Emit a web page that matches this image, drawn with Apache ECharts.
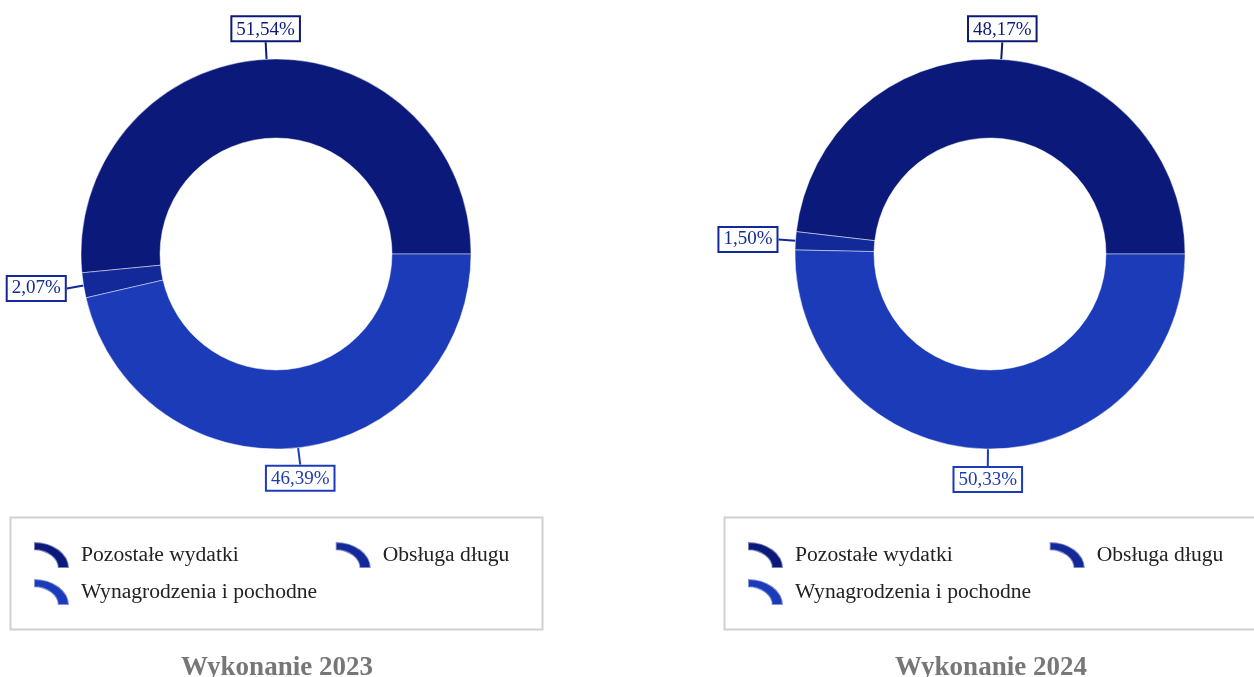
<!DOCTYPE html>
<html>
<head>
<meta charset="utf-8">
<script src="https://cdn.jsdelivr.net/npm/echarts@6/dist/echarts.min.js"></script>
<style>
html,body{margin:0;padding:0;background:#fff;}
#chart{width:1254px;height:677px;}
</style>
</head>
<body>
<div id="chart"></div>
<script>
const categories = ['Pozostałe wydatki', 'Obsługa długu', 'Wynagrodzenia i pochodne'];
const values2023 = [51.54, 2.07, 46.39];
const values2024 = [48.17, 1.50, 50.33];
const chartTitles = ['Wykonanie 2023', 'Wykonanie 2024'];
const colors = ['#0b1a7a', '#13299a', '#1c3bb9'];

const FONT = '"Liberation Serif", "Times New Roman", serif';
const ICON = 'path://M0,0 A100,100 0 0 1 100,100 L68,100 A68,68 0 0 0 0,32 Z';

const chart = echarts.init(document.getElementById('chart'));

function fmt(v){ return v.toFixed(2).replace('.', ',') + '%'; }

function labelLayout(params){
  const pts = params.labelLinePoints;
  if (!pts) return {};
  const end = pts[pts.length - 1];
  const start = pts[0];
  const dx = end[0] - start[0], dy = end[1] - start[1];
  if (Math.abs(dy) >= Math.abs(dx)) {
    return { x: end[0], y: end[1], align: 'center', verticalAlign: dy < 0 ? 'bottom' : 'top' };
  }
  return { x: end[0], y: end[1], align: dx < 0 ? 'right' : 'left', verticalAlign: 'middle' };
}

function makeSeries(vals, cx){
  return {
    type: 'pie',
    center: [cx, 254],
    radius: [116, 195],
    startAngle: 0,
    clockwise: false,
    avoidLabelOverlap: false,
    silent: true,
    itemStyle: { borderColor: 'rgba(255,255,255,0.45)', borderWidth: 1 },
    label: {
      show: true,
      position: 'outside',
      fontFamily: FONT,
      fontSize: 19,
      backgroundColor: '#fff',
      borderWidth: 2,
      padding: [3, 4, 1, 4],
      formatter: p => fmt(p.value)
    },
    labelLine: { show: true, length: 19, length2: 0, lineStyle: { width: 2 } },
    labelLayout: labelLayout,
    data: categories.map((c, i) => ({
      name: c, value: vals[i],
      itemStyle: { color: colors[i] },
      label: { color: colors[i], borderColor: colors[i] },
      labelLine: { lineStyle: { color: colors[i] } }
    }))
  };
}

const legendText = { fontFamily: FONT, fontSize: 21.6, color: '#222', padding: [0, 0, 0, 7] };

function makeLegendRow(left, top, names, gap){
  return {
    left: left, top: top,
    orient: 'horizontal',
    icon: ICON,
    symbolKeepAspect: false,
    itemWidth: 35, itemHeight: 26,
    itemGap: gap,
    padding: 0,
    selectedMode: false,
    textStyle: legendText,
    data: names
  };
}

function frame(left){
  return {
    type: 'rect', left: left, top: 515, silent: true,
    shape: { width: 532, height: 112 },
    style: { fill: 'none', stroke: '#d0d0d0', lineWidth: 2 }
  };
}

chart.setOption({
  animation: false,
  color: colors,
  title: chartTitles.map((t, i) => ({
    text: t,
    left: i === 0 ? 272 : 986,
    textAlign: 'center',
    top: 650,
    textStyle: { fontFamily: FONT, fontSize: 27, fontWeight: 'bold', color: '#777' }
  })),
  graphic: [frame(8), frame(722)],
  legend: [
    makeLegendRow(33, 541, [categories[0], categories[1]], 96),
    makeLegendRow(33, 578, [categories[2]], 10),
    makeLegendRow(747, 541, [categories[0], categories[1]], 96),
    makeLegendRow(747, 578, [categories[2]], 10)
  ],
  series: [makeSeries(values2023, 276), makeSeries(values2024, 990)]
});
</script>
</body>
</html>
